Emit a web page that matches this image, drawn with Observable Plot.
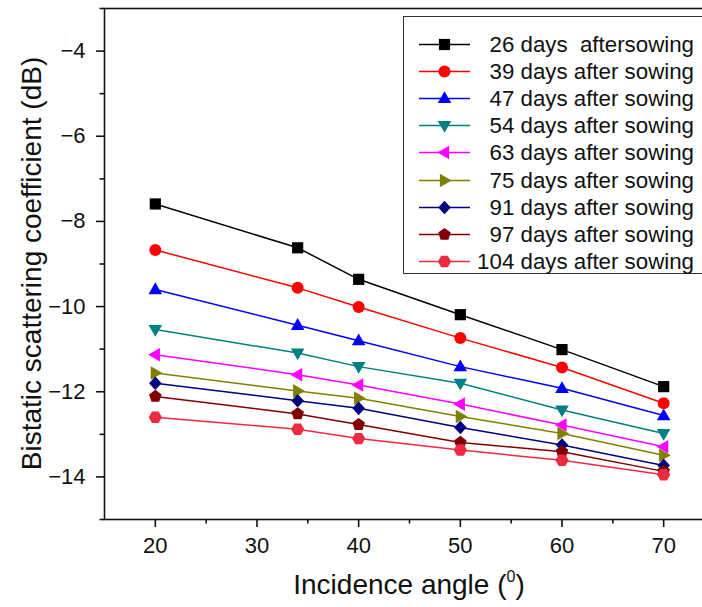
<!DOCTYPE html>
<html><head><meta charset="utf-8">
<script src="https://cdn.jsdelivr.net/npm/d3@7"></script>
<script src="https://cdn.jsdelivr.net/npm/@observablehq/plot@0.6"></script>
<style>
html,body{margin:0;padding:0;background:#fff;overflow:hidden;}
#wrap{position:relative;width:702px;height:607px;overflow:hidden;font-family:"Liberation Sans",Arial,sans-serif;background:#fff;}
#legend{position:absolute;left:403px;top:16px;width:330px;height:258px;border:1.5px solid #333;box-sizing:border-box;background:#fff;}
.lrow{position:absolute;left:0;height:27px;width:300px;}
.lrow svg{position:absolute;left:14px;top:0;}
.lrow span{position:absolute;right:10px;top:0;line-height:27px;font-size:22.3px;white-space:pre;color:#111;}
</style></head>
<body><div id="wrap"></div>
<script>
// ---- data ----
const angles = [20, 34, 40, 50, 60, 70];
const seriesNames = [
  "26 days  aftersowing", "39 days after sowing", "47 days after sowing",
  "54 days after sowing", "63 days after sowing", "75 days after sowing",
  "91 days after sowing", "97 days after sowing", "104 days after sowing"
];
const s26  = [-7.59, -8.62, -9.36, -10.19, -11.01, -11.88];
const s39  = [-8.67, -9.56, -10.01, -10.74, -11.43, -12.27];
const s47  = [-9.60, -10.44, -10.80, -11.41, -11.92, -12.56];
const s54  = [-10.54, -11.09, -11.41, -11.80, -12.43, -12.98];
const s63  = [-11.13, -11.60, -11.84, -12.29, -12.78, -13.29];
const s75  = [-11.56, -11.98, -12.15, -12.58, -12.98, -13.49];
const s91  = [-11.80, -12.21, -12.39, -12.84, -13.25, -13.73];
const s97  = [-12.11, -12.52, -12.77, -13.19, -13.41, -13.87];
const s104 = [-12.60, -12.88, -13.10, -13.37, -13.61, -13.95];
const seriesValues = [s26, s39, s47, s54, s63, s75, s91, s97, s104];
const colors = ["#000000", "#ff0000", "#0000ff", "#008080", "#ff00ff", "#808000", "#000080", "#800000", "#ee2a40"];
const symbolNames = ["square", "circle", "triangleUp", "triangleDown", "triangleLeft", "triangleRight", "diamond", "pentagon", "hexagon"];
const xTicks = [20, 30, 40, 50, 60, 70];
const xMinorTicks = [25, 35, 45, 55, 65, 75];
const yTicks = [-14, -12, -10, -8, -6, -4];
const yMinorTicks = [-15, -13, -11, -9, -7, -5, -3];
const xDomain = [15, 75];
const yDomain = [-15, -3];
const xTitle = "Incidence angle (";
const xTitleSup = "0";
const yTitle = "Bistatic scattering coefficient (dB)";

// ---- symbols (shapes defined for r = 6, scaled by r) ----
function polySym(pts) {
  return {draw(ctx, size) {
    const k = Math.sqrt(size / Math.PI) / 6;
    ctx.moveTo(pts[0][0] * k, pts[0][1] * k);
    for (let i = 1; i < pts.length; i++) ctx.lineTo(pts[i][0] * k, pts[i][1] * k);
    ctx.closePath();
  }};
}
function regular(n, rad, start) {
  const p = [];
  for (let i = 0; i < n; i++) {
    const a = start + i * 2 * Math.PI / n;
    p.push([rad * Math.cos(a), rad * Math.sin(a)]);
  }
  return p;
}
const symbolDefs = {
  square: polySym([[-5.6, -5.6], [5.6, -5.6], [5.6, 5.6], [-5.6, 5.6]]),
  circle: {draw(ctx, size) { const r = Math.sqrt(size / Math.PI); ctx.moveTo(r, 0); ctx.arc(0, 0, r, 0, 2 * Math.PI); }},
  triangleUp: polySym([[0, -7.2], [6.8, 4.6], [-6.8, 4.6]]),
  triangleDown: polySym([[0, 7.2], [6.8, -4.6], [-6.8, -4.6]]),
  triangleLeft: polySym([[-7.2, 0], [4.6, -6.8], [4.6, 6.8]]),
  triangleRight: polySym([[7.2, 0], [-4.6, -6.8], [-4.6, 6.8]]),
  diamond: polySym([[0, -6.8], [6.3, 0], [0, 6.8], [-6.3, 0]]),
  pentagon: polySym(regular(5, 6.6, -Math.PI / 2)),
  hexagon: polySym(regular(6, 6.6, 0))
};

// ---- marks ----
const marks = [];
seriesValues.forEach((vals, i) => {
  const data = angles.map((a, j) => ({angle: a, value: vals[j]}));
  marks.push(Plot.line(data, {x: "angle", y: "value", stroke: colors[i], strokeWidth: 1.5}));
  marks.push(Plot.dot(data, {x: "angle", y: "value", symbol: symbolDefs[symbolNames[i]], r: 6, fill: colors[i], stroke: "none"}));
});
const fmt = d => d < 0 ? "\u2212" + Math.abs(d) : String(d);
const FONT = "'Liberation Sans', Arial, sans-serif";

const plot = Plot.plot({
  width: 702,
  height: 607,
  marginLeft: 104,
  marginTop: 8,
  marginBottom: 88,
  marginRight: -12,
  style: {fontFamily: FONT, background: "#fff", color: "#111", fontSize: "22px"},
  x: {domain: xDomain},
  y: {domain: yDomain},
  marks: [
    Plot.axisX({ticks: xTicks, tickSize: 8, strokeWidth: 1.6, tickFormat: () => "", label: null}),
    Plot.axisX({ticks: xMinorTicks, tickSize: 4.5, strokeWidth: 1.6, tickFormat: () => "", label: null}),
    Plot.axisY({ticks: yTicks, tickSize: 8, strokeWidth: 1.6, tickFormat: () => "", label: null}),
    Plot.axisY({ticks: yMinorTicks, tickSize: 4.5, strokeWidth: 1.6, tickFormat: () => "", label: null}),
    Plot.text(xTicks, {x: d => d, frameAnchor: "bottom", dy: 18, lineAnchor: "top", text: fmt, fontSize: 22, fill: "#111"}),
    Plot.text(yTicks, {y: d => d, frameAnchor: "left", dx: -19, textAnchor: "end", lineAnchor: "middle", text: fmt, fontSize: 22, fill: "#111"}),
    ...marks,
    Plot.frame({stroke: "#111", strokeWidth: 1.6})
  ]
});
document.getElementById("wrap").appendChild(plot);

// ---- axis titles ----
const svg = d3.select(plot);
const xs = plot.scale("x"), ys = plot.scale("y");
const xc = xs.apply((xDomain[0] + xDomain[1]) / 2);
const yc = ys.apply((yDomain[0] + yDomain[1]) / 2);
const xt = svg.append("text")
  .attr("x", xc).attr("y", 594)
  .attr("text-anchor", "middle")
  .attr("font-size", 28).attr("fill", "#111")
  .attr("font-family", FONT);
xt.append("tspan").text(xTitle);
xt.append("tspan").attr("font-size", 16).attr("dy", -12).text(xTitleSup);
xt.append("tspan").attr("dy", 12).text(")");
svg.append("text")
  .attr("transform", `translate(41,${yc}) rotate(-90)`)
  .attr("text-anchor", "middle")
  .attr("font-size", 28).attr("fill", "#111")
  .attr("font-family", FONT)
  .text(yTitle);

// ---- legend ----
const legend = d3.select("#wrap").append("div").attr("id", "legend");
seriesNames.forEach((name, i) => {
  const row = legend.append("div").attr("class", "lrow").style("top", (14 + i * 27.1) + "px");
  const s = row.append("svg").attr("width", 54).attr("height", 27);
  s.append("line").attr("x1", 1).attr("x2", 52).attr("y1", 13.5).attr("y2", 13.5)
    .attr("stroke", colors[i]).attr("stroke-width", 1.6);
  const p = d3.path();
  symbolDefs[symbolNames[i]].draw(p, Math.PI * 36);
  s.append("path").attr("d", p.toString()).attr("transform", "translate(26.5,13.5)").attr("fill", colors[i]);
  row.append("span").text(name);
});
</script>
</body></html>
